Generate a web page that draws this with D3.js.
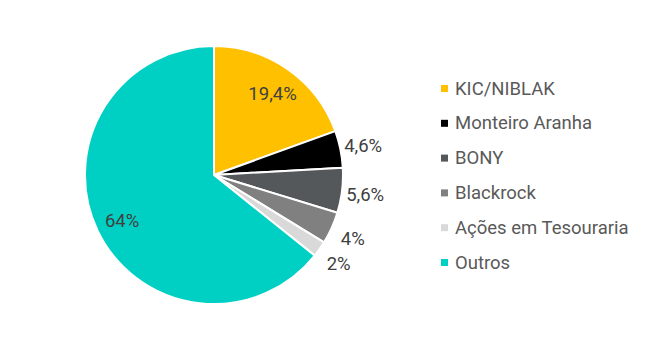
<!DOCTYPE html>
<html><head><meta charset="utf-8">
<script src="https://cdn.jsdelivr.net/npm/d3@7"></script>
<style>body{margin:0;background:#fff}svg{display:block}</style>
</head><body><svg id="c" width="652" height="351"></svg>
<script>
const categories = ["KIC/NIBLAK","Monteiro Aranha","BONY","Blackrock","Ações em Tesouraria","Outros"];
const values = [19.4, 4.6, 5.6, 4, 2, 64];
const labels = ["19,4%","4,6%","5,6%","4%","2%","64%"];
const colors = ["#FFC000","#000000","#55585B","#808080","#D9D9D9","#00D0C4"];

const svg = d3.select("#c");
const cx = 214, cy = 175, r = 129;
const pie = d3.pie().sort(null).value(d => d);
const arcs = pie(values);
const arc = d3.arc().innerRadius(0).outerRadius(r);
const g = svg.append("g").attr("transform", `translate(${cx},${cy})`);
g.selectAll("path").data(arcs).join("path")
  .attr("d", arc).attr("fill", (d,i) => colors[i])
  .attr("stroke", "#fff").attr("stroke-width", 2).attr("stroke-linejoin","round");

const inArc = d3.arc().innerRadius(r*0.79).outerRadius(r*0.79);
const outArc = d3.arc().innerRadius(r*1.18).outerRadius(r*1.18);
g.selectAll("text").data(arcs).join("text")
  .attr("transform", (d,i) => {
    const p = (i === 0 || i === 5) ? inArc.centroid(d) : outArc.centroid(d);
    return `translate(${p[0]},${p[1]})`;
  })
  .attr("text-anchor","middle").attr("dominant-baseline","central").attr("dy", 2)
  .attr("font-family","Roboto, sans-serif").attr("font-size", 18.5)
  .attr("fill","#404040").text((d,i) => labels[i]);

const leg = svg.append("g").attr("transform","translate(441,88.5)");
const rows = leg.selectAll("g").data(categories).join("g")
  .attr("transform", (d,i) => `translate(0,${i*34.8})`);
rows.append("rect").attr("x",0).attr("y",-3.5).attr("width",7).attr("height",7)
  .attr("fill",(d,i)=>colors[i]);
rows.append("text").attr("x",14).attr("y",0).attr("dominant-baseline","central")
  .attr("font-family","Roboto, sans-serif").attr("font-size",18.5).attr("fill","#595959")
  .text(d=>d);
</script></body></html>
